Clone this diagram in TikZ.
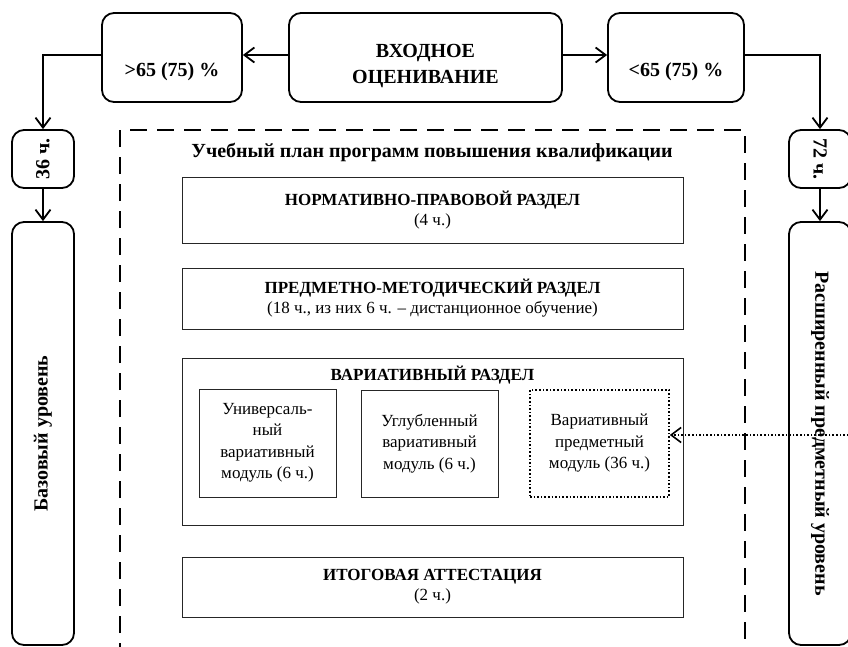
\documentclass[tikz,border=0pt]{standalone}
\usepackage{fontspec}
\setmainfont{Liberation Serif}
\usetikzlibrary{arrows.meta}

\begin{document}
\begin{tikzpicture}[x=1pt,y=-1pt,
    >={Straight Barb[length=10pt,width=15pt]},
    rbox/.style={draw,line width=1.8pt,rounded corners=12pt,inner sep=0pt,
                 align=center,font=\fontsize{20}{25.5}\selectfont\bfseries},
    sbox/.style={draw=black!85,line width=0.9pt,inner sep=0pt,align=center,
                 font=\fontsize{17}{20}\selectfont},
    mbox/.style={sbox,font=\fontsize{17}{21.5}\selectfont},
    conn/.style={line width=1.8pt,->}]
    \useasboundingbox (0,0) rectangle (848,646);

    %%%% Entry assessment %%%%%%%%%%%%%%%%%%%%%%%%%%%%%%%%%%%%%%%%%%%%%%%%
    \node[rbox,minimum width=273pt,minimum height=89pt,text height=55pt,text depth=4pt]
         (entry) at (425.5,57.5) {ВХОДНОЕ\\ОЦЕНИВАНИЕ};
    \node[rbox,minimum width=140pt,minimum height=89pt,text height=42pt,text depth=4pt]
         (high) at (172,57.5) {>65 (75) \%};
    \node[rbox,minimum width=136pt,minimum height=89pt,text height=42pt,text depth=4pt]
         (low) at (676,57.5) {<65 (75) \%};
    \draw[conn] (entry.west |- 0,55) -- (high.east |- 0,55);
    \draw[conn] (entry.east |- 0,55) -- (low.west |- 0,55);

    %%%% Basic level %%%%%%%%%%%%%%%%%%%%%%%%%%%%%%%%%%%%%%%%%%%%%%%%%%%%%
    \node[rbox,rotate=90,minimum width=58pt,minimum height=62pt]
         (h36) at (43,159) {36 ч.};
    \node[rbox,rotate=90,minimum width=423pt,minimum height=62pt]
         (base) at (43,433.5) {Базовый уровень};
    \draw[conn] (high.west |- 0,55) -| (h36.east);
    \draw[conn] (h36.west) -- (base.east);

    %%%% Extended level %%%%%%%%%%%%%%%%%%%%%%%%%%%%%%%%%%%%%%%%%%%%%%%%%%
    \node[rbox,rotate=-90,minimum width=58pt,minimum height=62pt]
         (h72) at (820,159) {72 ч.};
    \node[rbox,rotate=-90,minimum width=423pt,minimum height=62pt]
         (ext) at (820,433.5) {Расширенный предметный уровень};
    \draw[conn] (low.east |- 0,55) -| (h72.west);
    \draw[conn] (h72.east) -- (ext.west);

    %%%% Curriculum %%%%%%%%%%%%%%%%%%%%%%%%%%%%%%%%%%%%%%%%%%%%%%%%%%%%%%
    \draw[line width=2.4pt,dash pattern=on 17pt off 10pt]
         (120,660) -- (120,130) -- (745,130) -- (745,660);
    \node[font=\fontsize{20}{24}\selectfont\bfseries] (plan) at (432,152)
         {Учебный план программ повышения квалификации};

    \node[sbox,minimum width=501pt,minimum height=66pt] (norm) at (432.5,210)
         {\textbf{НОРМАТИВНО-ПРАВОВОЙ РАЗДЕЛ}\\(4 ч.)};
    \node[sbox,minimum width=501pt,minimum height=61pt] (subj) at (432.5,298.5)
         {\textbf{ПРЕДМЕТНО-МЕТОДИЧЕСКИЙ РАЗДЕЛ}\\(18 ч., из них 6 ч. – дистанционное обучение)};
    \node[sbox,minimum width=501pt,minimum height=167pt] (var) at (432.5,441.5) {};
    \node[font=\fontsize{17}{20}\selectfont\bfseries] (vartitle) at (432.5,375)
         {ВАРИАТИВНЫЙ РАЗДЕЛ};
    \node[mbox,minimum width=137pt,minimum height=108pt] (uni) at (267.5,443)
         {Универсаль-\\ный\\вариативный\\модуль (6 ч.)};
    \node[mbox,minimum width=137pt,minimum height=107pt] (deep) at (429.5,443.5)
         {Углубленный\\вариативный\\модуль (6 ч.)};
    \node[mbox,draw=black,line width=1.6pt,dotted,minimum width=139pt,minimum height=107pt]
         (vsub) at (599.5,443.5) {Вариативный\\предметный\\модуль (36 ч.)};
    \node[sbox,minimum width=501pt,minimum height=60pt] (final) at (432.5,587)
         {\textbf{ИТОГОВАЯ АТТЕСТАЦИЯ}\\(2 ч.)};

    \draw[line width=1.6pt,dotted,->] (ext.north |- 0,435) -- (vsub.east |- 0,435);
\end{tikzpicture}
\end{document}
